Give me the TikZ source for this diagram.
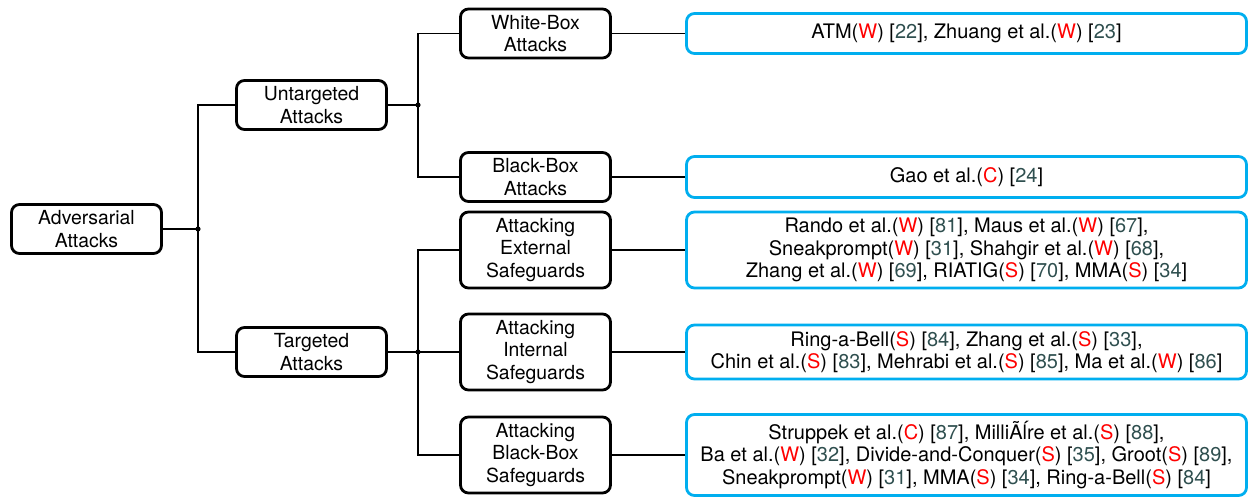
\documentclass[tikz,border=0pt]{standalone}
\usepackage{fontspec}
\setmainfont{TeX Gyre Heros}
\usepackage{tikz}

\definecolor{refcol}{RGB}{47,79,79}
\definecolor{boxblue}{RGB}{0,174,239}
\newcommand{\tg}[1]{(\textcolor{red}{#1})}
\newcommand{\rf}[1]{[\textcolor{refcol}{#1}]}

\begin{document}
\begin{tikzpicture}[x=0.5pt,y=-0.5pt,
        cat/.style={draw, line width=1.4pt, rounded corners=4pt, align=center,
            minimum width=75pt, inner sep=1pt, font=\fontsize{9.7}{11.25}\selectfont},
        leaf/.style={draw=boxblue, line width=1.4pt, rounded corners=4pt, align=center,
            minimum width=280pt, inner sep=1pt, font=\fontsize{10}{11.25}\selectfont},
        conn/.style={line width=0.9pt}]

        \useasboundingbox (0,0) rectangle (1250,498);

        % Корень
        \node[cat, minimum height=24.5pt] (adv) at (86.5,229) {Adversarial\\Attacks};

        % Первый уровень
        \node[cat, minimum height=24.5pt] (untarg) at (311.5,105) {Untargeted\\Attacks};
        \node[cat, minimum height=24.5pt] (targ) at (311.5,352) {Targeted\\Attacks};

        % Второй уровень
        \node[cat, minimum height=24.5pt] (wbox) at (535.5,33.5) {White-Box\\Attacks};
        \node[cat, minimum height=24.5pt] (bbox) at (535.5,177) {Black-Box\\Attacks};
        \node[cat, minimum height=38pt] (extsg) at (535.5,250) {Attacking\\External\\Safeguards};
        \node[cat, minimum height=38pt] (intsg) at (535.5,352) {Attacking\\Internal\\Safeguards};
        \node[cat, minimum height=38pt] (bbsg) at (535.5,455) {Attacking\\Black-Box\\Safeguards};

        % Работы
        \node[leaf, minimum height=20pt] (wlist) at (966.5,33.5)
            {ATM\tg{W} \rf{22}, Zhuang et al.\tg{W} \rf{23}};
        \node[leaf, minimum height=20.5pt] (blist) at (966.5,177)
            {Gao et al.\tg{C} \rf{24}};
        \node[leaf, minimum height=38pt] (extlist) at (966.5,250)
            {Rando et al.\tg{W} \rf{81}, Maus et al.\tg{W} \rf{67},\\
             Sneakprompt\tg{W} \rf{31}, Shahgir et al.\tg{W} \rf{68},\\
             Zhang et al.\tg{W} \rf{69}, RIATIG\tg{S} \rf{70}, MMA\tg{S} \rf{34}};
        \node[leaf, minimum height=27pt] (intlist) at (966.5,352)
            {Ring-a-Bell\tg{S} \rf{84}, Zhang et al.\tg{S} \rf{33},\\
             Chin et al.\tg{S} \rf{83}, Mehrabi et al.\tg{S} \rf{85}, Ma et al.\tg{W} \rf{86}};
        \node[leaf, minimum height=40.5pt] (bblist) at (966.5,455)
            {Struppek et al.\tg{C} \rf{87}, MilliÃĺre et al.\tg{S} \rf{88},\\
             Ba et al.\tg{W} \rf{32}, Divide-and-Conquer\tg{S} \rf{35}, Groot\tg{S} \rf{89},\\
             Sneakprompt\tg{W} \rf{31}, MMA\tg{S} \rf{34}, Ring-a-Bell\tg{S} \rf{84}};

        % Точки ветвления
        \coordinate (j1) at (198,229);
        \coordinate (j2) at (418,105);
        \coordinate (j3) at (418,352);

        % Связи
        \draw[conn] (adv.east) -- (j1);
        \foreach \dst in {untarg, targ}
            \draw[conn] (j1) |- (\dst.west);
        \draw[conn] (untarg.east) -- (j2);
        \foreach \dst in {wbox, bbox}
            \draw[conn] (j2) |- (\dst.west);
        \draw[conn] (targ.east) -- (j3);
        \foreach \dst in {extsg, intsg, bbsg}
            \draw[conn] (j3) |- (\dst.west);
        \foreach \src/\dst in {wbox/wlist, bbox/blist, extsg/extlist, intsg/intlist, bbsg/bblist}
            \draw[conn] (\src.east) -- (\dst.west);

        \foreach \j in {j1, j2, j3}
            \fill (\j) circle (1.3pt);
    \end{tikzpicture}
\end{document}
